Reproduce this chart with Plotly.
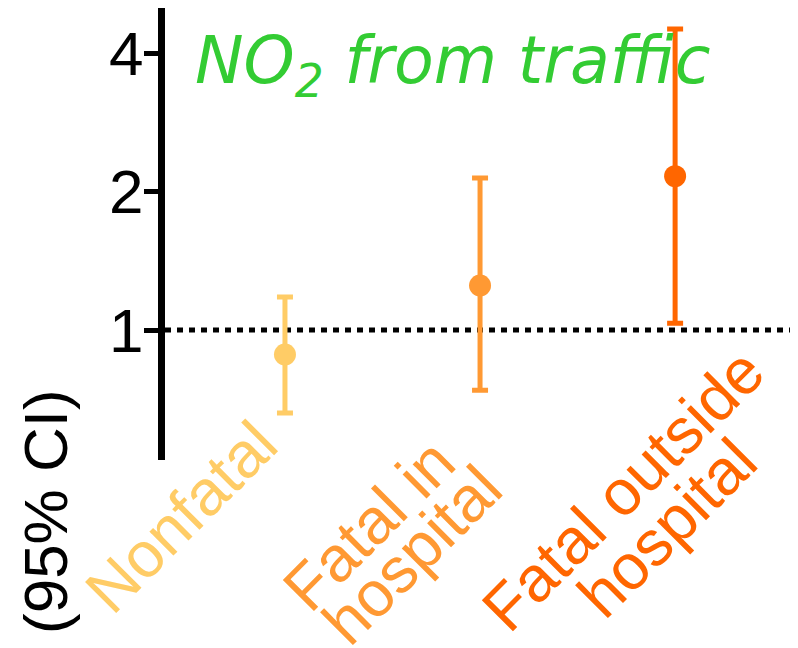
import math
import plotly.graph_objects as go

# ---- data ----
categories = ["Nonfatal", "Fatal in hospital", "Fatal outside hospital"]
label_lines = [["Nonfatal"], ["Fatal in", "hospital"], ["Fatal outside", "hospital"]]
odds_ratio = [0.885, 1.25, 2.16]
ci_lower = [0.66, 0.74, 1.035]
ci_upper = [1.18, 2.14, 4.51]
ytick_vals = [1, 2, 4]
ytick_text = ["1", "2", "4"]
reference_value = 1
title_text = "NO<sub>2</sub> from traffic"
ytitle_text = "(95% CI)"

# ---- style ----
colors = ["#FFCC66", "#FF9933", "#FF6600"]
green = "#33CC33"
OFF = 8  # page body margin offset
W, H = 790, 640
L, R, T, B = 157, 0, 0, 188
xr = [-0.615, 2.63]
yr = [math.log10(0.522), math.log10(5.01)]


def pxx(x):  # screen px -> paper x
    return (x - OFF - L) / (W - L - R)


def pxy(y):  # screen px -> paper y
    return (H - B - (y - OFF)) / (H - B - T)


fig = go.Figure()

# reference line at OR = 1
fig.add_trace(go.Scatter(
    x=xr, y=[reference_value, reference_value], mode="lines",
    line=dict(color="black", width=5, dash="6px,6px"),
    hoverinfo="skip", showlegend=False))

for i, cat in enumerate(categories):
    fig.add_trace(go.Scatter(
        x=[i], y=[odds_ratio[i]], mode="markers",
        marker=dict(color=colors[i], size=22),
        error_y=dict(type="data", symmetric=False,
                     array=[ci_upper[i] - odds_ratio[i]],
                     arrayminus=[odds_ratio[i] - ci_lower[i]],
                     color=colors[i], thickness=5, width=8),
        name=cat, showlegend=False))

annotations = []
# category labels (rotated), one annotation per line
label_centers = [[(181, 517)], [(369, 525), (412, 555)], [(623, 490), (667, 528)]]
for i, lines in enumerate(label_lines):
    for txt, (cx, cy) in zip(lines, label_centers[i]):
        annotations.append(dict(
            text=txt, x=pxx(cx), y=pxy(cy), xref="paper", yref="paper",
            xanchor="center", yanchor="middle", showarrow=False,
            textangle=-45,
            font=dict(family="Liberation Sans, Arial", size=64, color=colors[i])))

# title
annotations.append(dict(
    text="<i>" + title_text + "</i>", x=pxx(193), y=pxy(66), xref="paper", yref="paper",
    xanchor="left", yanchor="middle", showarrow=False,
    font=dict(family="DejaVu Sans", size=65, color=green)))

# y title (visible part)
annotations.append(dict(
    text=ytitle_text, x=pxx(45), y=pxy(512), xref="paper", yref="paper",
    xanchor="center", yanchor="middle", showarrow=False, textangle=-90,
    font=dict(family="Liberation Sans, Arial", size=62, color="black")))

fig.update_layout(
    width=W, height=H,
    margin=dict(l=L, r=R, t=T, b=B, pad=0),
    paper_bgcolor="white", plot_bgcolor="white",
    showlegend=False,
    annotations=annotations,
    xaxis=dict(range=xr, showgrid=False, zeroline=False, showline=False,
               showticklabels=False, ticks=""),
    yaxis=dict(type="log", range=yr, showgrid=False, zeroline=False,
               showline=True, linecolor="black", linewidth=7,
               ticks="outside", ticklen=14, tickwidth=5, tickcolor="black",
               ticklabelstandoff=-12,
               tickvals=ytick_vals, ticktext=ytick_text,
               tickfont=dict(family="Liberation Sans, Arial", size=62, color="black")),
)

fig.write_html("out.html")
